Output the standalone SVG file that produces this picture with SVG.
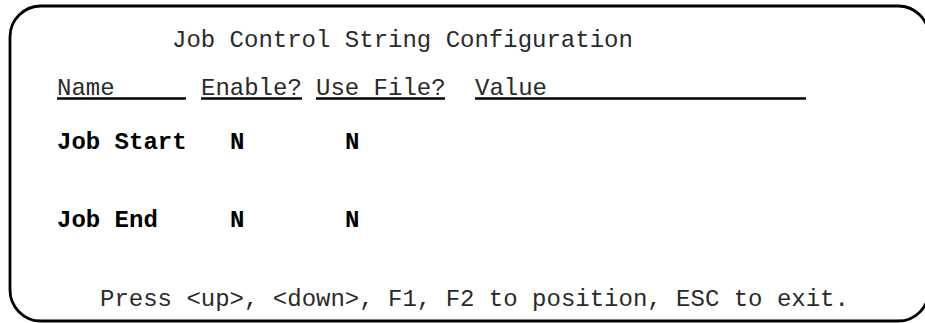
<svg xmlns="http://www.w3.org/2000/svg" width="925" height="323" viewBox="0 0 925 323">
  <style>
    .t { font-family: "Liberation Mono", "Courier New", monospace; font-size: 24px; fill: #2a2a2a; }
    .b { font-weight: bold; fill: #000; }
    .u { stroke: #000; stroke-width: 2.5; }
  </style>
  <rect x="10" y="6" width="919" height="315" rx="31" ry="31" fill="#fff" stroke="#000" stroke-width="2.8"/>
  <g id="title">
    <text class="t" x="172" y="47">Job Control String Configuration</text>
  </g>
  <g id="header">
    <text class="t" x="57" y="95">Name</text>
    <text class="t" x="201" y="95">Enable?</text>
    <text class="t" x="316" y="95">Use File?</text>
    <text class="t" x="475" y="95">Value</text>
    <line class="u" x1="57" y1="98.5" x2="186" y2="98.5"/>
    <line class="u" x1="201" y1="98.5" x2="302" y2="98.5"/>
    <line class="u" x1="316" y1="98.5" x2="445" y2="98.5"/>
    <line class="u" x1="475" y1="98.5" x2="806" y2="98.5"/>
  </g>
  <g id="job-start">
    <text class="t b" x="57" y="149">Job Start</text>
    <text class="t b" x="230" y="149">N</text>
    <text class="t b" x="345" y="149">N</text>
  </g>
  <g id="job-end">
    <text class="t b" x="57" y="227">Job End</text>
    <text class="t b" x="230" y="227">N</text>
    <text class="t b" x="345" y="227">N</text>
  </g>
  <g id="footer">
    <text class="t" x="100" y="306">Press &lt;up&gt;, &lt;down&gt;, F1, F2 to position, ESC to exit.</text>
  </g>
</svg>
